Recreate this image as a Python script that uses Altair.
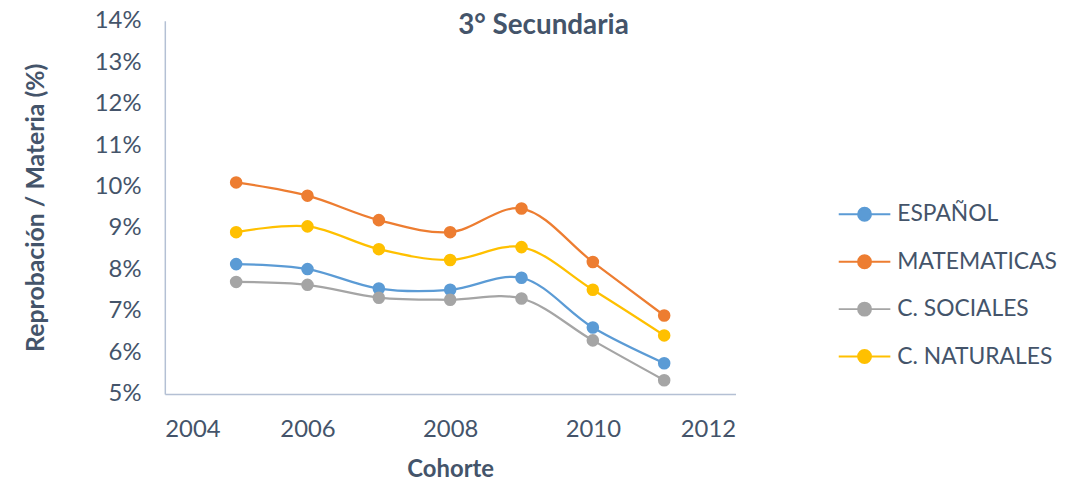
import altair as alt
import pandas as pd

years = [2005, 2006, 2007, 2008, 2009, 2010, 2011]
series_names = ["ESPAÑOL", "MATEMATICAS", "C. SOCIALES", "C. NATURALES"]
espanol = [8.13, 8.01, 7.54, 7.51, 7.80, 6.60, 5.74]
matematicas = [10.10, 9.78, 9.19, 8.90, 9.47, 8.18, 6.89]
sociales = [7.70, 7.63, 7.32, 7.27, 7.30, 6.29, 5.33]
naturales = [8.90, 9.04, 8.49, 8.23, 8.54, 7.51, 6.41]
colors = ["#5B9BD5", "#ED7D31", "#A5A5A5", "#FFC000"]

rows = []
for name, vals in zip(series_names, [espanol, matematicas, sociales, naturales]):
    for y, v in zip(years, vals):
        rows.append({"Cohorte": y, "valor": v / 100.0, "Materia": name})
df = pd.DataFrame(rows)

FONT = "Lato"
TXT = "#44546A"

x = alt.X("Cohorte:Q", scale=alt.Scale(domain=[2004, 2012], nice=False),
          axis=alt.Axis(values=[2004, 2006, 2008, 2010, 2012], format="d",
                        title="Cohorte", grid=False, ticks=False,
                        domainColor="#B4C0D4", domainWidth=1.5,
                        labelFontSize=24, labelColor=TXT, labelPadding=24,
                        titleFontSize=24, titleFontWeight="bold", titleColor=TXT,
                        titlePadding=16, labelFont=FONT, titleFont=FONT))
y = alt.Y("valor:Q", scale=alt.Scale(domain=[0.05, 0.14], nice=False, zero=False),
          axis=alt.Axis(values=[0.05, 0.06, 0.07, 0.08, 0.09, 0.10, 0.11, 0.12, 0.13, 0.14],
                        format=".0%", title="Reprobación / Materia (%)", grid=False,
                        ticks=False, domainColor="#B4C0D4", domainWidth=1.5,
                        labelFontSize=24, labelColor=TXT, labelPadding=24,
                        titleFontSize=25, titleFontWeight="bold", titleColor=TXT,
                        titlePadding=46, labelFont=FONT, titleFont=FONT))

sym = "M -1 0 L -0.25 0 A 0.25 0.25 0 1 1 0.25 0 A 0.25 0.25 0 1 1 -0.25 0 M 0.25 0 L 1 0"

color = alt.Color("Materia:N",
                  scale=alt.Scale(domain=series_names, range=colors),
                  sort=series_names,
                  legend=alt.Legend(title=None, orient="none", legendX=678, legendY=168,
                                    symbolType=sym, symbolSize=2704, symbolStrokeWidth=2,
                                    labelFontSize=23, labelColor=TXT, labelFont=FONT,
                                    labelLimit=400, rowPadding=8.8, labelOffset=6, padding=0))

base = alt.Chart(df)
lines = base.mark_line(interpolate="catmull-rom", strokeWidth=2.25).encode(x=x, y=y, color=color)
points = base.mark_point(filled=True, size=160, opacity=1).encode(
    x=x, y=y, color=alt.Color("Materia:N", scale=alt.Scale(domain=series_names, range=colors), legend=None))

chart = alt.layer(lines, points).properties(
    width=575, height=376,
    title=alt.TitleParams("3° Secundaria", fontSize=28, fontWeight="bold", color=TXT,
                          font=FONT, anchor="middle", dx=94, dy=6, offset=-25),
    autosize=alt.AutoSizeParams(type="none"),
    padding={"left": 158, "top": 11, "right": 336, "bottom": 89},
).configure(background="white").configure_view(strokeWidth=0, stroke="transparent")

chart.save("out.html", embed_options={"renderer": "svg", "actions": False})
